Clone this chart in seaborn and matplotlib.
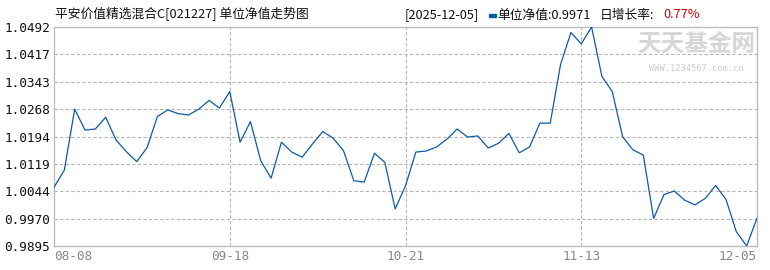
import matplotlib
matplotlib.use("Agg")
import matplotlib.pyplot as plt
import seaborn as sns
import numpy as np
import pandas as pd

nav = [1.0055, 1.0102, 1.0268, 1.0211, 1.0214, 1.0246, 1.0184, 1.0152, 1.0125, 1.0163,
       1.0248, 1.0266, 1.0256, 1.0252, 1.0268, 1.0292, 1.0271, 1.0316, 1.0178, 1.0234,
       1.0127, 1.0080, 1.0178, 1.0151, 1.0137, 1.0173, 1.0207, 1.0189, 1.0155, 1.0073,
       1.0069, 1.0148, 1.0123, 0.9996, 1.0059, 1.0151, 1.0154, 1.0165, 1.0186, 1.0214,
       1.0192, 1.0195, 1.0162, 1.0175, 1.0202, 1.0149, 1.0165, 1.0230, 1.0230, 1.0390,
       1.0477, 1.0446, 1.0492, 1.0357, 1.0316, 1.0193, 1.0157, 1.0143, 0.9970, 1.0035,
       1.0045, 1.0020, 1.0007, 1.0025, 1.0060, 1.0022, 0.9934, 0.9895, 0.9971]
x_tick_pos = [0, 17, 34, 51, 68]
x_tick_labels = ["08-08", "09-18", "10-21", "11-13", "12-05"]
y_tick_labels = ["0.9895", "0.9970", "1.0044", "1.0119", "1.0194", "1.0268", "1.0343", "1.0417", "1.0492"]
title = "平安价值精选混合C[021227] 单位净值走势图"
date_text = "[2025-12-05]"
nav_text = "单位净值:0.9971"
rate_label = "日增长率:"
rate_value = "0.77%"

sns.set_style("white")
plt.rcParams['font.family'] = ['Noto Sans CJK SC', 'DejaVu Sans']

df = pd.DataFrame({"idx": np.arange(len(nav)), "nav": nav})

W, H = 770, 270
fig = plt.figure(figsize=(W / 100, H / 100), dpi=100)
ax = fig.add_axes([54 / W, 1 - 246 / H, (757 - 54) / W, (246 - 27) / H])

ymin, ymax = 0.9895, 1.0492
yt = np.linspace(ymin, ymax, len(y_tick_labels))
grid_c = "#b4b4b4"
for v in yt[1:-1]:
    ax.axhline(v, color=grid_c, lw=0.8, ls=(0, (3, 2)), zorder=1)
for p in x_tick_pos[1:-1]:
    ax.axvline(p, color=grid_c, lw=0.8, ls=(0, (3, 2)), zorder=1)

sns.lineplot(data=df, x="idx", y="nav", ax=ax, color="#0e5aa7", lw=0.9, zorder=3)

ax.set_xlim(0, len(nav) - 1)
ax.set_ylim(ymin, ymax)
ax.set_yticks(yt)
ax.set_yticklabels(y_tick_labels, family="DejaVu Sans Mono", fontsize=9.2, color="#111111")
ax.set_xticks(x_tick_pos)
ax.set_xticklabels(x_tick_labels, family="DejaVu Sans Mono", fontsize=9.2, color="#888888")
labs = ax.get_xticklabels()
labs[0].set_ha("left")
labs[-1].set_ha("right")
ax.tick_params(axis="both", length=0, pad=3)
ax.set_xlabel("")
ax.set_ylabel("")
for s in ax.spines.values():
    s.set_color("#bdbdbd")
    s.set_linewidth(1.0)

# watermark
ax.text(0.914, 0.925, "天天基金网", transform=ax.transAxes, ha="center", va="center",
        fontsize=17, color="#d6d6d6", fontweight="bold", zorder=2)
ax.text(0.914, 0.81, "WWW.1234567.com.cn", transform=ax.transAxes, ha="center", va="center",
        fontsize=6.3, color="#cccccc", family="DejaVu Sans Mono", zorder=2)

fs = 9.2
fig.text(55 / W, 1 - 14 / H, title, fontsize=fs, va="center", ha="left", color="#111111")
fig.text(405 / W, 1 - 15 / H, date_text, fontsize=fs, va="center", ha="left", color="#111111")
fig.add_artist(plt.Rectangle((489 / W, 1 - 17 / H), 7 / W, 3 / H, color="#0e5aa7",
                             transform=fig.transFigure))
fig.text(497 / W, 1 - 15 / H, nav_text, fontsize=fs, va="center", ha="left", color="#111111")
fig.text(600 / W, 1 - 15 / H, rate_label, fontsize=fs, va="center", ha="left", color="#111111")
fig.text(663 / W, 1 - 15 / H, rate_value, fontsize=fs, va="center", ha="left", color="#dd0000")

fig.savefig("out.png", dpi=100)
